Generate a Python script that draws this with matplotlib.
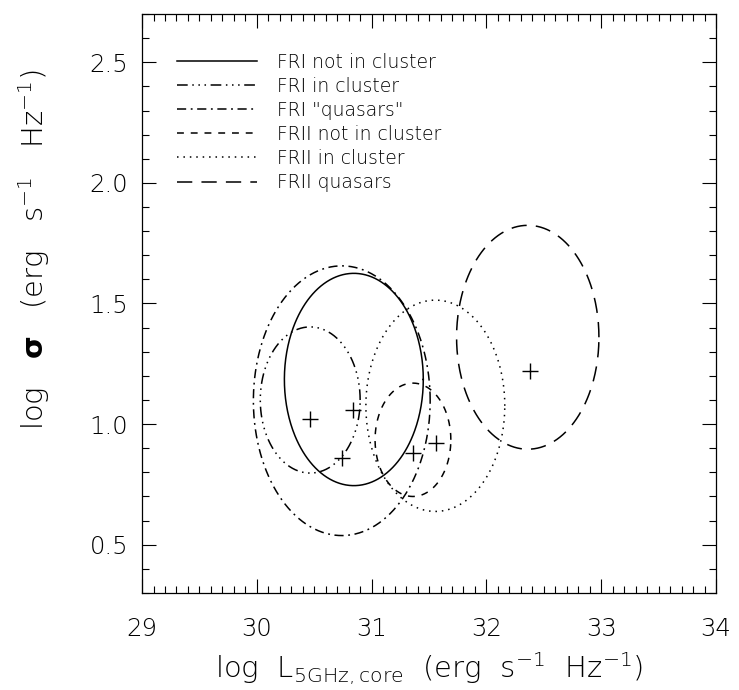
import numpy as np
import matplotlib
matplotlib.use('Agg')
import matplotlib.pyplot as plt
from matplotlib.ticker import MultipleLocator

plt.rcParams['font.family'] = ['DejaVu Sans']
plt.rcParams['font.weight'] = 'light'
plt.rcParams['axes.labelweight'] = 'light'
plt.rcParams['mathtext.default'] = 'regular'

# Sample labels and line styles
labels = ['FRI not in cluster', 'FRI in cluster', 'FRI "quasars"',
          'FRII not in cluster', 'FRII in cluster', 'FRII quasars']
styles = ['-', (0, (7, 3, 1, 3, 1, 3, 1, 3)), (0, (6, 3, 1.2, 3)),
          (0, (4.5, 4.5)), (0, (1, 3.2)), (0, (10, 6))]

# Ellipse centres and semi-axes (log L, log sigma)
ell_x = [30.845, 30.465, 30.74, 31.36, 31.555, 32.36]
ell_y = [1.185, 1.10, 1.097, 0.935, 1.076, 1.36]
ell_a = [0.605, 0.435, 0.77, 0.33, 0.605, 0.62]
ell_b = [0.44, 0.303, 0.559, 0.235, 0.438, 0.464]

# Mean positions
mean_x = [30.46, 30.84, 30.74, 31.56, 31.36, 32.38]
mean_y = [1.02, 1.058, 0.858, 0.923, 0.882, 1.219]

fig = plt.figure(figsize=(7.39, 6.90), dpi=100)
ax = fig.add_axes([0.1922, 0.1406, 0.7767, 0.8391])

t = np.linspace(0, 2 * np.pi, 400)
for i in range(len(labels)):
    ax.plot(ell_x[i] + ell_a[i] * np.cos(t), ell_y[i] + ell_b[i] * np.sin(t),
            color='k', lw=1.1, linestyle=styles[i], label=labels[i])

ax.plot(mean_x, mean_y, '+', color='k', markersize=12, mew=1.0)

ax.set_xlim(29, 34)
ax.set_ylim(0.3, 2.7)
ax.xaxis.set_major_locator(MultipleLocator(1))
ax.xaxis.set_minor_locator(MultipleLocator(0.1))
ax.yaxis.set_major_locator(MultipleLocator(0.5))
ax.yaxis.set_minor_locator(MultipleLocator(0.1))
ax.xaxis.set_major_formatter(plt.FuncFormatter(lambda v, p: '{:d}'.format(int(round(v)))))
ax.yaxis.set_major_formatter(plt.FuncFormatter(lambda v, p: '{:.1f}'.format(v)))
ax.tick_params(which='both', direction='in', top=True, right=True, width=0.8,
               labelsize=17.5, colors='k')
ax.tick_params(which='major', length=10)
ax.tick_params(which='minor', length=5)
ax.tick_params(axis='x', which='major', pad=17)
ax.tick_params(axis='y', which='major', pad=10)
for s in ax.spines.values():
    s.set_linewidth(0.9)

ax.set_xlabel(r'log  L$_{5GHz,core}$  (erg  s$^{-1}$  Hz$^{-1}$)', fontsize=21, labelpad=7)
ax.set_ylabel(r'log   $\mathbf{\sigma}$   (erg   s$^{-1}$   Hz$^{-1}$)', fontsize=21)
ax.yaxis.set_label_coords(-0.157, 0.594)

ax.legend(loc='upper left', bbox_to_anchor=(0.061, 0.933), frameon=False,
          fontsize=13.5, handlelength=4.25, handletextpad=1.1, labelspacing=0.27,
          borderpad=0, borderaxespad=0)

fig.savefig('out.png', dpi=100)
